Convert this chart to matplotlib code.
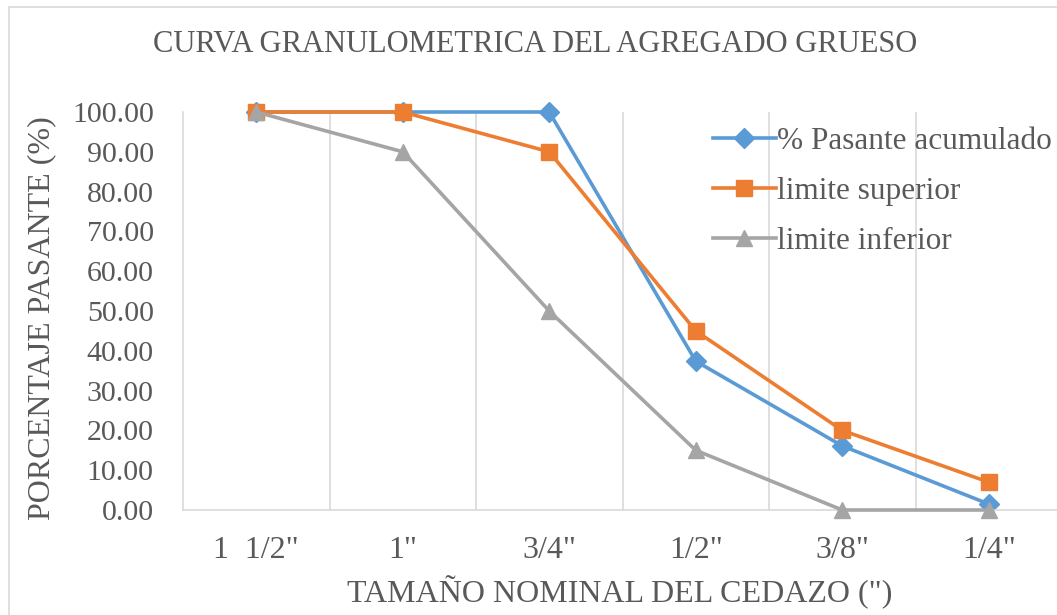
import matplotlib
matplotlib.use("Agg")
import matplotlib.pyplot as plt
from matplotlib.patches import Rectangle
from matplotlib.ticker import FixedLocator, FormatStrFormatter

categories = ['1  1/2"', '1"', '3/4"', '1/2"', '3/8"', '1/4"']
pasante = [100.0, 100.0, 100.0, 37.4, 16.1, 1.5]
lim_sup = [100.0, 100.0, 90.0, 45.0, 20.0, 7.0]
lim_inf = [100.0, 90.0, 50.0, 15.0, 0.0, 0.0]
series_names = ['% Pasante acumulado', 'limite superior', 'limite inferior']

TXT = '#595959'
GRID = '#D9D9D9'
plt.rcParams['font.family'] = ['Liberation Serif', 'DejaVu Serif']

W, H = 1057, 615
fig = plt.figure(figsize=(W / 100, H / 100), dpi=100)
fig.patches.append(Rectangle((9 / W, -0.1), 1.2, 1 - 7 / H + 0.1, transform=fig.transFigure,
                             fill=False, edgecolor=GRID, linewidth=1.2))

left, right, bottom, top = 183, 1062, 510, 112
ax = fig.add_axes([left / W, 1 - bottom / H, (right - left) / W, (bottom - top) / H])
x = list(range(len(categories)))

ax.plot(x, pasante, color='#5B9BD5', lw=2.6, marker='D', ms=10, label=series_names[0], zorder=2, clip_on=False)
ax.plot(x, lim_sup, color='#ED7D31', lw=2.6, marker='s', ms=12, label=series_names[1], zorder=3, clip_on=False)
ax.plot(x, lim_inf, color='#A5A5A5', lw=2.6, marker='^', ms=12, label=series_names[2], zorder=4, clip_on=False)

ax.set_xlim(-0.5, len(categories) - 0.5)
ax.set_ylim(0, 100)
ax.set_xticks(x)
ax.set_xticklabels(categories)
ax.xaxis.set_minor_locator(FixedLocator([i + 0.5 for i in x[:-1]]))
ax.grid(True, which='minor', axis='x', color=GRID, lw=1.2)
ax.set_yticks(range(0, 101, 10))
ax.yaxis.set_major_formatter(FormatStrFormatter('%.2f'))
ax.tick_params(axis='both', which='both', length=0, labelsize=21.5, colors=TXT)
ax.tick_params(axis='x', labelsize=23, pad=19)
ax.tick_params(axis='y', pad=21)
for s in ['top', 'right']:
    ax.spines[s].set_visible(False)
for s in ['left', 'bottom']:
    ax.spines[s].set_color(GRID)
    ax.spines[s].set_linewidth(1.2)
ax.set_axisbelow(True)

fig.text(535 / W, 1 - 45 / H, 'CURVA GRANULOMETRICA DEL AGREGADO GRUESO',
         ha='center', va='center', fontsize=22, color=TXT)
fig.text(42 / W, 1 - 318 / H, 'PORCENTAJE PASANTE (%)', rotation=90,
         ha='center', va='center', fontsize=23, color=TXT)
fig.text(620 / W, 1 - 592 / H, 'TAMAÑO NOMINAL DEL CEDAZO (")',
         ha='center', va='center', fontsize=23, color=TXT)

leg = ax.legend(loc='upper left', bbox_to_anchor=(713 / W, 1 - 127 / H), bbox_transform=fig.transFigure,
                frameon=False, fontsize=22.5, handlelength=2.0, handletextpad=0.05,
                labelspacing=0.67, borderaxespad=0, borderpad=0)
for t in leg.get_texts():
    t.set_color(TXT)

fig.savefig('out.png', dpi=100)
